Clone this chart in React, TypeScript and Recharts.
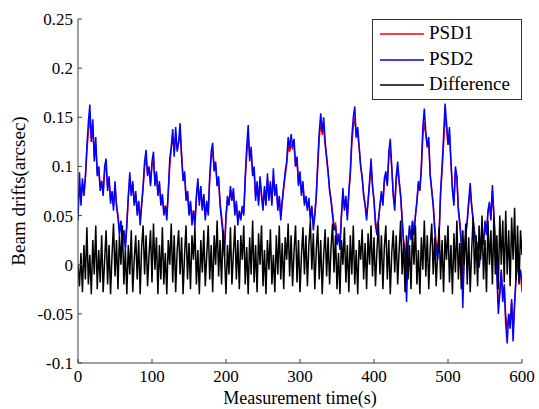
import React from 'react';
import { LineChart, Line, XAxis, YAxis, Legend, Label } from 'recharts';

const timeSec = [
  0, 2, 4, 6, 8, 10, 12, 14, 16, 18,
  20, 22, 24, 26, 28, 30, 32, 34, 36, 38,
  40, 42, 44, 46, 48, 50, 52, 54, 56, 58,
  60, 62, 64, 66, 68, 70, 72, 74, 76, 78,
  80, 82, 84, 86, 88, 90, 92, 94, 96, 98,
  100, 102, 104, 106, 108, 110, 112, 114, 116, 118,
  120, 122, 124, 126, 128, 130, 132, 134, 136, 138,
  140, 142, 144, 146, 148, 150, 152, 154, 156, 158,
  160, 162, 164, 166, 168, 170, 172, 174, 176, 178,
  180, 182, 184, 186, 188, 190, 192, 194, 196, 198,
  200, 202, 204, 206, 208, 210, 212, 214, 216, 218,
  220, 222, 224, 226, 228, 230, 232, 234, 236, 238,
  240, 242, 244, 246, 248, 250, 252, 254, 256, 258,
  260, 262, 264, 266, 268, 270, 272, 274, 276, 278,
  280, 282, 284, 286, 288, 290, 292, 294, 296, 298,
  300, 302, 304, 306, 308, 310, 312, 314, 316, 318,
  320, 322, 324, 326, 328, 330, 332, 334, 336, 338,
  340, 342, 344, 346, 348, 350, 352, 354, 356, 358,
  360, 362, 364, 366, 368, 370, 372, 374, 376, 378,
  380, 382, 384, 386, 388, 390, 392, 394, 396, 398,
  400, 402, 404, 406, 408, 410, 412, 414, 416, 418,
  420, 422, 424, 426, 428, 430, 432, 434, 436, 438,
  440, 442, 444, 446, 448, 450, 452, 454, 456, 458,
  460, 462, 464, 466, 468, 470, 472, 474, 476, 478,
  480, 482, 484, 486, 488, 490, 492, 494, 496, 498,
  500, 502, 504, 506, 508, 510, 512, 514, 516, 518,
  520, 522, 524, 526, 528, 530, 532, 534, 536, 538,
  540, 542, 544, 546, 548, 550, 552, 554, 556, 558,
  560, 562, 564, 566, 568, 570, 572, 574, 576, 578,
  580, 582, 584, 586, 588, 590, 592, 594, 596, 598,
  600,
];

const psd1 = [
  0.055, 0.08, 0.065, 0.082, 0.072, 0.088, 0.115, 0.135, 0.15, 0.128,
  0.14, 0.11, 0.122, 0.095, 0.098, 0.08, 0.084, 0.074, 0.095, 0.1,
  0.08, 0.086, 0.066, 0.073, 0.06, 0.08, 0.062, 0.05, 0.036, 0.044,
  0.026, 0.035, 0.022, 0.042, 0.068, 0.088, 0.072, 0.082, 0.063, 0.072,
  0.055, 0.064, 0.046, 0.062, 0.078, 0.1, 0.108, 0.093, 0.098, 0.083,
  0.1, 0.108, 0.084, 0.092, 0.073, 0.082, 0.063, 0.07, 0.054, 0.06,
  0.05, 0.074, 0.1, 0.118, 0.13, 0.115, 0.132, 0.118, 0.124, 0.135,
  0.112, 0.088, 0.092, 0.07, 0.074, 0.055, 0.063, 0.046, 0.055, 0.045,
  0.068, 0.083, 0.064, 0.077, 0.058, 0.07, 0.05, 0.063, 0.054, 0.087,
  0.108, 0.116, 0.098, 0.1, 0.083, 0.086, 0.064, 0.05, 0.036, 0.02,
  0.048, 0.066, 0.062, 0.076, 0.067, 0.074, 0.054, 0.062, 0.045, 0.054,
  0.048, 0.058, 0.053, 0.086, 0.112, 0.13, 0.11, 0.114, 0.093, 0.096,
  0.07, 0.082, 0.064, 0.085, 0.072, 0.06, 0.077, 0.063, 0.087, 0.068,
  0.082, 0.064, 0.09, 0.073, 0.079, 0.06, 0.068, 0.05, 0.064, 0.078,
  0.09, 0.102, 0.12, 0.115, 0.122, 0.118, 0.12, 0.1, 0.105, 0.082,
  0.09, 0.073, 0.08, 0.063, 0.068, 0.058, 0.065, 0.05, 0.058, 0.042,
  0.052, 0.07, 0.1, 0.128, 0.145, 0.132, 0.14, 0.122, 0.108, 0.093,
  0.077, 0.066, 0.053, 0.04, 0.042, 0.026, 0.032, 0.022, 0.05, 0.072,
  0.058, 0.067, 0.05, 0.072, 0.092, 0.122, 0.14, 0.15, 0.13, 0.132,
  0.118, 0.1, 0.088, 0.072, 0.062, 0.05, 0.064, 0.082, 0.1, 0.08,
  0.066, 0.045, 0.036, 0.046, 0.06, 0.072, 0.062, 0.084, 0.09, 0.082,
  0.108, 0.118, 0.098, 0.073, 0.06, 0.086, 0.098, 0.084, 0.07, 0.048,
  0.026, 0.015, -0.02, 0.02, 0.038, 0.028, 0.044, 0.034, 0.05, 0.064,
  0.082, 0.076, 0.098, 0.13, 0.145, 0.132, 0.12, 0.122, 0.092, 0.077,
  0.062, 0.04, 0.022, 0.012, 0.032, 0.072, 0.096, 0.122, 0.15, 0.14,
  0.122, 0.132, 0.104, 0.078, 0.064, 0.094, 0.088, 0.058, 0.044, 0.026,
  -0.025, 0.012, 0.03, 0.044, 0.062, 0.076, 0.06, 0.046, 0.033, 0.02,
  0.022, 0.005, 0.012, 0.034, 0.022, 0.043, 0.032, 0.053, 0.06, 0.048,
  0.075, 0.052, 0.024, -0.004, -0.04, -0.028, -0.008, -0.032, -0.022, -0.052,
  -0.065, -0.05, -0.058, -0.038, -0.065, -0.04, -0.015, 0.005, -0.015, -0.008,
  -0.028,
];

const psd2 = [
  0.045, 0.094, 0.06, 0.088, 0.07, 0.09, 0.12, 0.145, 0.163, 0.125,
  0.148, 0.105, 0.13, 0.09, 0.1, 0.075, 0.085, 0.07, 0.1, 0.108,
  0.075, 0.09, 0.062, 0.075, 0.055, 0.085, 0.06, 0.048, 0.03, 0.045,
  0.02, 0.035, 0.015, 0.04, 0.07, 0.094, 0.07, 0.085, 0.06, 0.075,
  0.05, 0.065, 0.04, 0.06, 0.08, 0.105, 0.117, 0.09, 0.1, 0.08,
  0.105, 0.115, 0.08, 0.095, 0.07, 0.085, 0.06, 0.072, 0.05, 0.06,
  0.045, 0.075, 0.108, 0.12, 0.138, 0.11, 0.14, 0.115, 0.125, 0.144,
  0.11, 0.085, 0.095, 0.065, 0.075, 0.05, 0.065, 0.04, 0.055, 0.038,
  0.07, 0.088, 0.06, 0.08, 0.055, 0.072, 0.045, 0.065, 0.05, 0.09,
  0.115, 0.124, 0.095, 0.105, 0.08, 0.09, 0.06, 0.045, 0.03, 0.008,
  0.05, 0.07, 0.06, 0.08, 0.065, 0.078, 0.05, 0.065, 0.04, 0.055,
  0.045, 0.06, 0.05, 0.09, 0.12, 0.142, 0.105, 0.12, 0.09, 0.1,
  0.065, 0.085, 0.06, 0.09, 0.07, 0.055, 0.08, 0.06, 0.093, 0.065,
  0.085, 0.06, 0.098, 0.07, 0.082, 0.055, 0.07, 0.045, 0.065, 0.08,
  0.095, 0.105, 0.13, 0.118, 0.133, 0.12, 0.128, 0.1, 0.11, 0.08,
  0.095, 0.07, 0.085, 0.06, 0.07, 0.055, 0.068, 0.045, 0.06, 0.035,
  0.05, 0.07, 0.105, 0.135, 0.154, 0.135, 0.15, 0.125, 0.11, 0.095,
  0.075, 0.065, 0.05, 0.035, 0.04, 0.02, 0.03, 0.015, 0.05, 0.078,
  0.055, 0.07, 0.045, 0.075, 0.095, 0.13, 0.15, 0.161, 0.13, 0.14,
  0.12, 0.1, 0.09, 0.07, 0.06, 0.045, 0.065, 0.085, 0.108, 0.08,
  0.065, 0.04, 0.03, 0.045, 0.06, 0.075, 0.06, 0.088, 0.095, 0.08,
  0.115, 0.128, 0.1, 0.07, 0.055, 0.09, 0.105, 0.085, 0.07, 0.045,
  0.02, 0.01, -0.038, 0.02, 0.04, 0.025, 0.045, 0.03, 0.05, 0.065,
  0.085, 0.075, 0.1, 0.14, 0.159, 0.135, 0.12, 0.13, 0.09, 0.075,
  0.06, 0.035, 0.015, 0.005, 0.03, 0.075, 0.1, 0.13, 0.164, 0.145,
  0.122, 0.14, 0.105, 0.075, 0.06, 0.1, 0.09, 0.055, 0.04, 0.02,
  -0.044, 0.01, 0.03, 0.045, 0.065, 0.083, 0.06, 0.045, 0.03, 0.015,
  0.02, -0.003, 0.01, 0.035, 0.02, 0.045, 0.03, 0.055, 0.064, 0.045,
  0.081, 0.05, 0.02, -0.01, -0.05, -0.03, -0.005, -0.038, -0.02, -0.06,
  -0.08, -0.05, -0.065, -0.035, -0.078, -0.04, -0.01, 0.01, -0.017, -0.005,
  -0.02,
];

const difference = [
  0, -0.022, 0.012, -0.028, 0.02, -0.015, 0.038, -0.02, 0.01, -0.03,
  0.025, -0.01, 0.04, -0.025, 0.015, -0.018, 0.03, -0.028, 0.005, 0.035,
  -0.02, 0.02, -0.03, 0.01, 0.042, -0.012, 0.025, -0.025, 0.03, 0,
  0.04, -0.02, 0.015, -0.03, 0.02, -0.01, 0.035, -0.028, 0.005, 0.03,
  -0.015, 0.025, -0.03, 0.018, 0.04, -0.01, 0.03, -0.022, 0.01, 0.035,
  -0.018, 0.042, -0.005, 0.028, -0.03, 0.02, -0.015, 0.038, -0.02, 0.012,
  -0.03, 0.025, 0, 0.042, -0.018, 0.03, -0.028, 0.015, 0.035, -0.01,
  0.028, -0.03, 0.01, 0.04, -0.015, 0.022, -0.025, 0.03, 0.005, 0.038,
  -0.02, 0.015, -0.03, 0.025, -0.008, 0.035, -0.022, 0.01, 0.04, -0.015,
  0.02, -0.028, 0.03, 0, 0.045, -0.012, 0.025, -0.02, 0.035, 0.01,
  -0.03, 0.02, -0.01, 0.038, -0.02, 0.012, 0.04, -0.015, 0.025, -0.025,
  0.03, 0.005, 0.04, -0.02, 0.018, -0.03, 0.028, -0.01, 0.045, -0.018,
  0.02, -0.028, 0.032, 0, 0.04, -0.022, 0.015, -0.03, 0.025, -0.005,
  0.036, -0.02, 0.01, -0.028, 0.03, -0.01, 0.04, -0.015, 0.022, -0.025,
  0.028, 0.005, 0.042, -0.012, 0.03, -0.022, 0.015, 0.04, -0.018, 0.025,
  -0.028, 0.01, 0.038, -0.01, 0.03, -0.022, 0.02, 0.045, -0.005, 0.032,
  -0.025, 0.015, 0.04, -0.015, 0.025, -0.03, 0.01, 0.036, -0.012, 0.028,
  -0.02, 0.018, 0.042, -0.008, 0.03, -0.025, 0.012, -0.03, 0.025, 0,
  0.038, -0.018, 0.02, -0.028, 0.03, -0.01, 0.04, -0.02, 0.015, -0.03,
  0.025, 0.005, 0.036, -0.015, 0.022, -0.025, 0.032, 0, 0.04, -0.012,
  0.028, -0.022, 0.015, 0.042, -0.01, 0.03, -0.025, 0.018, 0.04, -0.015,
  0.025, -0.03, 0.012, 0.035, -0.008, 0.03, -0.02, 0.015, 0.045, -0.01,
  0.022, -0.028, 0.03, -0.015, 0.02, -0.025, 0.035, 0, 0.04, -0.02,
  0.015, -0.03, 0.028, -0.005, 0.045, -0.012, 0.03, -0.025, 0.018, 0.042,
  -0.01, 0.028, -0.022, 0.012, 0.038, -0.015, 0.025, -0.028, 0.03, 0.005,
  0.04, -0.018, 0.02, -0.03, 0.032, -0.008, 0.045, -0.015, 0.022, -0.025,
  0.035, 0, 0.042, -0.02, 0.028, -0.028, 0.015, 0.048, -0.01, 0.03,
  -0.022, 0.04, 0.005, 0.05, -0.015, 0.025, -0.028, 0.045, 0, 0.035,
  -0.02, 0.048, -0.01, 0.03, -0.025, 0.05, 0, 0.045, -0.018, 0.055,
  -0.01, 0.035, -0.022, 0.048, 0.005, 0.058, -0.015, 0.04, -0.02, 0.035,
  0.01,
];

const xTicks = [0, 100, 200, 300, 400, 500, 600];
const yTicks = [-0.1, -0.05, 0, 0.05, 0.1, 0.15, 0.2, 0.25];
const yTickLabels = ['-0.1', '-0.05', '0', '0.05', '0.1', '0.15', '0.2', '0.25'];
const seriesNames = ['PSD1', 'PSD2', 'Difference'];
const seriesColors = ['#ff0000', '#0000ff', '#000000'];

const data = timeSec.map((t, i) => ({
  t,
  psd1: psd1[i],
  psd2: psd2[i],
  diff: difference[i],
}));

const FONT = 'Liberation Serif, Tinos, DejaVu Serif, serif';
const AXIS_COLOR = '#404040';

const yLabelFor = (v: number) => {
  const idx = yTicks.indexOf(v);
  return idx >= 0 ? yTickLabels[idx] : String(v);
};

const XTick = (props: any) => {
  const { x, y, payload } = props;
  return (
    <text
      x={x}
      y={y}
      dy={13}
      textAnchor="middle"
      style={{ fontFamily: FONT, fontSize: 17, fill: '#000' }}
    >
      {String(payload.value)}
    </text>
  );
};

const YTick = (props: any) => {
  const { x, y, payload } = props;
  return (
    <text
      x={x}
      y={y}
      dy={6}
      textAnchor="end"
      style={{ fontFamily: FONT, fontSize: 17, fill: '#000' }}
    >
      {yLabelFor(payload.value)}
    </text>
  );
};

const LegendBox = () => (
  <div
    style={{
      width: 150,
      height: 81,
      boxSizing: 'border-box',
      border: '1px solid #333',
      background: '#fff',
      position: 'relative',
    }}
  >
    {seriesNames.map((name, i) => (
      <div
        key={name}
        style={{
          position: 'absolute',
          left: 7,
          top: 4 + i * 25.5,
          height: 20,
          display: 'flex',
          alignItems: 'center',
          whiteSpace: 'nowrap',
        }}
      >
        <svg width={44} height={20} style={{ display: 'block' }}>
          <line x1={0} y1={10} x2={44} y2={10} stroke={seriesColors[i]} strokeWidth={1.5} />
        </svg>
        <svg width={95} height={22} style={{ display: 'block', marginLeft: 5 }}>
          <text x={0} y={16} style={{ fontFamily: FONT, fontSize: 19, fill: '#000' }}>
            {name}
          </text>
        </svg>
      </div>
    ))}
  </div>
);

export default function App() {
  return (
    <div style={{ position: 'absolute', left: 0, top: 0, width: 539, height: 409, background: '#fff' }}>
      <LineChart
        width={539}
        height={409}
        data={data}
        margin={{ top: 19, right: 17, bottom: 0, left: 0 }}
      >
        <XAxis
          dataKey="t"
          type="number"
          domain={[0, 600]}
          ticks={xTicks}
          interval={0}
          allowDataOverflow
          height={46}
          stroke={AXIS_COLOR}
          tickSize={-4}
          tickMargin={10}
          tick={<XTick />}
        >
          <Label
            value="Measurement time(s)"
            position="insideBottom"
            offset={5}
            style={{ fill: '#000', fontSize: 18, fontFamily: FONT }}
          />
        </XAxis>
        <XAxis
          xAxisId="top"
          orientation="top"
          dataKey="t"
          type="number"
          domain={[0, 600]}
          ticks={xTicks}
          interval={0}
          allowDataOverflow
          height={0}
          stroke={AXIS_COLOR}
          tickSize={-4}
          tickFormatter={() => ''}
        />
        <YAxis
          type="number"
          domain={[-0.1, 0.25]}
          ticks={yTicks}
          interval={0}
          allowDataOverflow
          width={78}
          stroke={AXIS_COLOR}
          tickSize={-4}
          tickMargin={9}
          tick={<YTick />}
        >
          <Label
            value="Beam drifts(arcsec)"
            angle={-90}
            position="center"
            dx={-21}
            style={{ fill: '#000', fontSize: 19, fontFamily: FONT, textAnchor: 'middle' }}
          />
        </YAxis>
        <YAxis
          yAxisId="right"
          orientation="right"
          type="number"
          domain={[-0.1, 0.25]}
          ticks={yTicks}
          interval={0}
          allowDataOverflow
          width={0}
          stroke={AXIS_COLOR}
          tickSize={-4}
          tickFormatter={() => ''}
        />
        <Line
          type="linear"
          dataKey="psd1"
          name={seriesNames[0]}
          stroke={seriesColors[0]}
          strokeWidth={1.5}
          dot={false}
          isAnimationActive={false}
        />
        <Line
          type="linear"
          dataKey="psd2"
          name={seriesNames[1]}
          stroke={seriesColors[1]}
          strokeWidth={1.5}
          dot={false}
          isAnimationActive={false}
        />
        <Line
          type="linear"
          dataKey="diff"
          name={seriesNames[2]}
          stroke={seriesColors[2]}
          strokeWidth={1.5}
          dot={false}
          isAnimationActive={false}
        />
        <Legend
          layout="vertical"
          align="center"
          verticalAlign="middle"
          content={LegendBox}
          wrapperStyle={{ left: 372, top: 19, width: 150, height: 81 }}
        />
      </LineChart>
    </div>
  );
}
